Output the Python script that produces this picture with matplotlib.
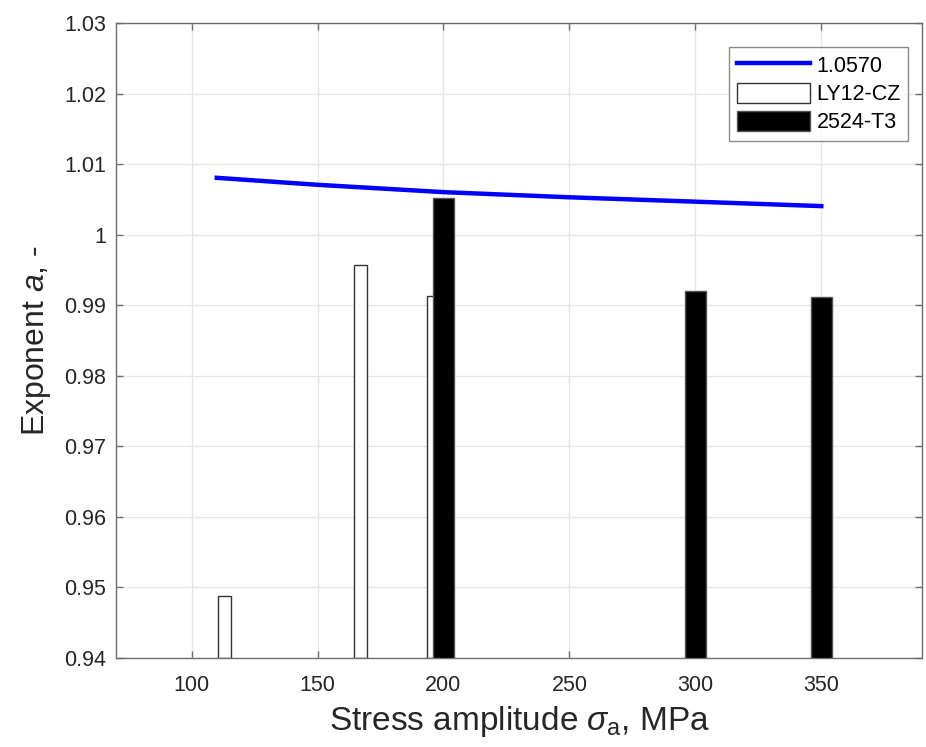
import matplotlib
matplotlib.use("Agg")
import matplotlib.pyplot as plt
import numpy as np

plt.rcParams['font.family'] = ['Liberation Sans', 'DejaVu Sans']
plt.rcParams['mathtext.fontset'] = 'custom'
plt.rcParams['mathtext.it'] = 'Liberation Sans:italic'
plt.rcParams['mathtext.rm'] = 'Liberation Sans'

# Data
fit_x = [110, 150, 200, 250, 300, 350]
fit_y = [1.00806, 1.00707, 1.00603, 1.00530, 1.00468, 1.00405]
fit_label = "1.0570"

ly_x = [113, 167, 196]
ly_y = [0.9488, 0.9957, 0.9913]
ly_label = "LY12-CZ"

t3_x = [200, 300, 350]
t3_y = [1.0052, 0.9920, 0.9912]
t3_label = "2524-T3"

xticks = [100, 150, 200, 250, 300, 350]
yticks = [0.94, 0.95, 0.96, 0.97, 0.98, 0.99, 1.00, 1.01, 1.02, 1.03]
ytick_labels = ['0.94', '0.95', '0.96', '0.97', '0.98', '0.99', '1', '1.01', '1.02', '1.03']

fig = plt.figure(figsize=(9.26, 7.47), dpi=100)
ax = fig.add_axes([0.1253, 0.1191, 0.8704, 0.8501])

ymin = 0.94
ax.plot(fit_x, fit_y, color='#0000ff', lw=3.2, label=fit_label, zorder=4)
ax.bar(ly_x, np.array(ly_y) - ymin, bottom=ymin, width=4.9, facecolor='white',
       edgecolor='#333333', linewidth=1.0, label=ly_label, zorder=2)
ax.bar(t3_x, np.array(t3_y) - ymin, bottom=ymin, width=8.2, facecolor='black',
       edgecolor='#555555', linewidth=1.0, label=t3_label, zorder=3)

ax.set_xlim(70, 390)
ax.set_ylim(0.94, 1.03)
ax.set_xticks(xticks)
ax.set_yticks(yticks)
ax.set_yticklabels(ytick_labels)
ax.grid(True, color='#e6e6e6', lw=1.0, zorder=0)
ax.set_axisbelow(True)
for s in ax.spines.values():
    s.set_color('#6e6e6e')
    s.set_linewidth(1.0)
ax.tick_params(direction='in', top=True, right=True, length=5, width=1.0,
               color='#6e6e6e', labelsize=15.5, labelcolor='#262626')
ax.tick_params(axis='x', pad=12)
ax.tick_params(axis='y', pad=7)

ax.set_xlabel(r'Stress amplitude $\sigma_{\rm a}$, MPa', fontsize=24, color='#262626', labelpad=6)
ax.set_ylabel(r'Exponent $a$, -', fontsize=23, color='#262626', labelpad=8)

leg = ax.legend(loc='upper right', bbox_to_anchor=(0.983, 0.962), fontsize=15.5,
                frameon=True, fancybox=False, handlelength=3.4, handleheight=1.1,
                borderpad=0.35, labelspacing=0.25, handletextpad=0.3, borderaxespad=0)
leg.get_frame().set_edgecolor('#6e6e6e')
leg.get_frame().set_linewidth(1.0)

fig.savefig('out.png', dpi=100)
